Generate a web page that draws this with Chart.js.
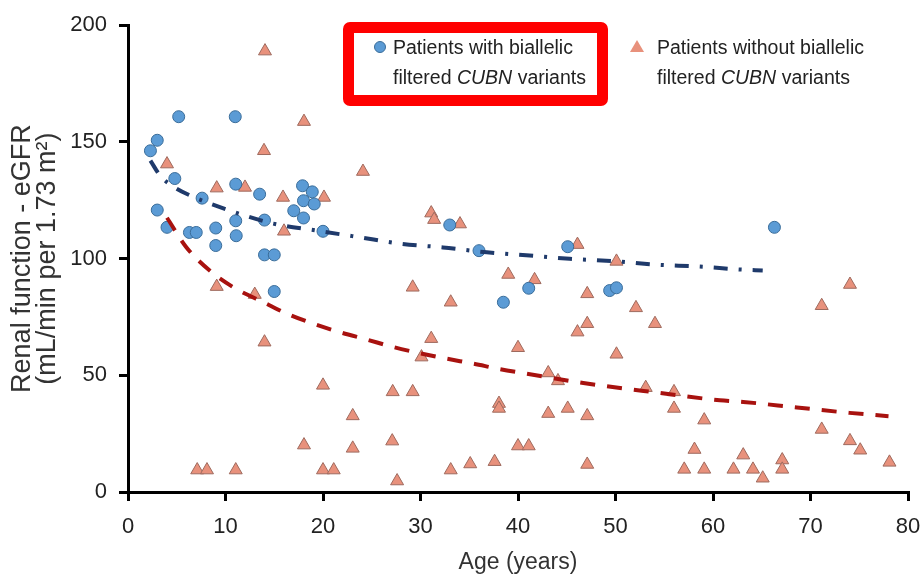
<!DOCTYPE html>
<html>
<head>
<meta charset="utf-8">
<script src="https://cdn.jsdelivr.net/npm/chart.js@4.4.1/dist/chart.umd.min.js"></script>
<style>
  html, body { margin: 0; padding: 0; background: #fff; }
  #wrap { position: relative; width: 923px; height: 576px; }
  #legend { position: absolute; left: 0; top: 0; font-family: "Liberation Sans", Arial, sans-serif; font-size: 19.5px; color: #222; }
  .box { position: absolute; left: 343px; top: 22px; width: 265px; height: 84px; box-sizing: border-box; border: 11px solid #ff0000; border-radius: 7px; }
  .item { position: absolute; line-height: 30px; white-space: nowrap; }
  .dot { position: absolute; width: 12px; height: 12px; border-radius: 50%; background: #5b9bd5; border: 1px solid #3a6d9a; box-sizing: border-box; }
  .tri { position: absolute; width: 0; height: 0; border-left: 7px solid transparent; border-right: 7px solid transparent; border-bottom: 12px solid #e8917c; }
</style>
</head>
<body>
<div id="wrap">
  <canvas id="myChart" width="923" height="576"></canvas>
  <div id="legend">
    <div class="box"></div>
    <div class="dot" style="left:374px; top:41px;"></div>
    <div class="item" style="left:393px; top:32px;">Patients with biallelic<br>filtered <i>CUBN</i> variants</div>
    <div class="tri" style="left:630px; top:40px;"></div>
    <div class="item" style="left:657px; top:32px;">Patients without biallelic<br>filtered <i>CUBN</i> variants</div>
  </div>
</div>
<script>
// patients with biallelic CUBN variants (age, eGFR)
const withAge = [2.3, 3.0, 5.2, 11.0, 4.8, 11.05, 7.6, 13.5, 17.9, 18.9, 18.0, 19.1, 17.0, 18.0, 3.0, 11.05, 14.0, 20.0, 4.0, 6.3, 7.0, 9.0, 9.0, 11.1, 14.0, 15.0, 15.0, 33.0, 36.0, 41.1, 38.5, 45.1, 49.4, 50.1, 66.3];
const withGfr = [146.2, 150.7, 160.8, 160.8, 134.3, 131.9, 125.9, 127.6, 131.2, 128.6, 124.8, 123.4, 120.5, 117.4, 120.8, 116.2, 116.5, 111.7, 113.4, 111.2, 111.2, 113.1, 105.6, 109.8, 101.6, 101.6, 85.9, 114.4, 103.4, 87.3, 81.3, 105.1, 86.3, 87.5, 113.4];

// patients without biallelic CUBN variants
const withoutAge = [14.05, 18.05, 13.95, 4.0, 9.1, 12.0, 15.9, 20.1, 16.0, 9.1, 13.0, 14.0, 20.0, 18.05, 7.1, 8.1, 11.05, 20.0, 21.1,
  24.1, 31.1, 31.4, 34.05, 29.2, 33.1, 39.0, 41.7, 31.1, 30.1, 27.15, 29.2, 40.0, 38.05, 38.05, 23.05, 23.05, 27.1, 27.6, 33.1, 35.1, 37.6, 40.0, 41.1,
  46.1, 50.1, 47.1, 52.1, 54.05, 46.1, 47.1, 50.1, 43.1, 44.1, 53.1, 56.0, 56.0, 43.1, 45.1, 47.1, 59.1, 58.1, 47.1, 57.05, 59.1, 62.1,
  74.05, 71.15, 71.15, 74.05, 75.1, 78.1, 63.1, 64.1, 65.1, 67.1, 67.1];
const withoutGfr = [188.9, 158.7, 146.2, 140.5, 130.2, 130.5, 126.2, 126.2, 111.7, 88.0, 84.6, 64.2, 45.7, 20.1, 9.4, 9.4, 9.4, 9.4, 9.4,
  137.3, 119.5, 116.7, 114.8, 87.7, 81.3, 93.2, 90.9, 65.7, 57.8, 42.9, 42.9, 61.8, 37.9, 35.8, 32.6, 18.7, 21.8, 4.7, 9.4, 12.0, 13.0, 19.7, 19.7,
  106.0, 98.8, 84.9, 78.9, 72.1, 68.5, 72.1, 59.0, 51.0, 47.6, 44.7, 42.9, 35.8, 33.6, 35.8, 32.6, 30.8, 18.2, 11.8, 9.7, 9.7, 9.7,
  88.9, 79.8, 26.8, 21.9, 17.9, 12.7, 15.8, 9.7, 5.9, 13.7, 9.7];

// trend lines
const blueTrendAge = [2.3, 3.3, 4.6, 6.4, 10.5, 14.9, 19.4, 23.8, 28.1, 32.3, 36.8, 41.2, 45.3, 49.7, 54.2, 58.5, 62.9, 65.1];
const blueTrendGfr = [142, 135.5, 131, 127, 120.5, 115, 112, 109.1, 106.3, 104.8, 102.7, 101.3, 99.9, 98.9, 97.4, 96.6, 95.3, 94.9];
const redTrendAge = [4, 6, 8.6, 11.1, 13.9, 16.3, 19, 21.7, 24.5, 27.2, 29.9, 32.7, 35.4, 38.2, 40.9, 46.7, 54.6, 60.7, 63.1, 68.6, 74, 78];
const redTrendGfr = [117.5, 104.8, 94.1, 87, 81.3, 76.4, 72.1, 68.5, 65.3, 62.1, 59.5, 57.1, 55, 52.6, 50.7, 46.7, 42.4, 39.3, 38.6, 36.2, 33.9, 32.5];

const xTicks = [0, 10, 20, 30, 40, 50, 60, 70, 80];
const yTicks = [0, 50, 100, 150, 200];

let toPoints = (xs, ys) => xs.map((x, i) => ({ x: x, y: ys[i] }));

(function () {
  const ctx = document.getElementById('myChart');
  const font = { family: '"Liberation Sans", Arial, sans-serif', size: 22 };

  const data = {
    datasets: [{
      label: 'trend with',
      data: toPoints(blueTrendAge, blueTrendGfr),
      showLine: true,
      pointRadius: 0,
      borderColor: '#1f3a6b',
      borderWidth: 4,
      borderDash: [14, 11, 3, 11],
      cubicInterpolationMode: 'monotone'
    }, {
      label: 'trend without',
      data: toPoints(redTrendAge, redTrendGfr),
      showLine: true,
      pointRadius: 0,
      borderColor: '#a8120f',
      borderWidth: 4,
      borderDash: [15, 12],
      cubicInterpolationMode: 'monotone'
    }, {
      label: 'Patients with biallelic filtered CUBN variants',
      data: toPoints(withAge, withGfr),
      pointStyle: 'circle',
      pointRadius: 6,
      backgroundColor: '#5b9bd5',
      borderColor: '#3a6d9a',
      borderWidth: 1
    }, {
      label: 'Patients without biallelic filtered CUBN variants',
      data: toPoints(withoutAge, withoutGfr),
      pointStyle: 'triangle',
      pointRadius: 7.5,
      backgroundColor: '#e8917c',
      borderColor: '#9e6a5e',
      borderWidth: 1
    }]
  };

  const config = {
    type: 'scatter',
    data: data,
    options: {
      responsive: false,
      animation: false,
      layout: { padding: { top: 24, right: 15, left: 0, bottom: 0 } },
      plugins: { legend: { display: false }, tooltip: { enabled: false } },
      scales: {
        x: {
          type: 'linear', min: 0, max: 80,
          afterBuildTicks: s => { s.ticks = xTicks.map(v => ({ value: v })); },
          afterFit: s => { s.height = 84; s.paddingLeft = 0; s.paddingRight = 0; },
          border: { display: true, color: '#000', width: 3 },
          grid: { drawOnChartArea: false, drawTicks: true, tickLength: 9, color: '#000', lineWidth: 3 },
          ticks: { color: '#222', font: font, padding: 13, maxRotation: 0 },
          title: { display: true, text: 'Age (years)', color: '#333', font: { family: font.family, size: 23, lineHeight: 1.2 }, padding: { top: 0, bottom: 0 } }
        },
        y: {
          type: 'linear', min: 0, max: 200,
          afterBuildTicks: s => { s.ticks = yTicks.map(v => ({ value: v })); },
          afterFit: s => { s.width = 128; },
          border: { display: true, color: '#000', width: 3 },
          grid: { drawOnChartArea: false, drawTicks: true, tickLength: 9, color: '#000', lineWidth: 3 },
          ticks: { color: '#222', font: font, padding: 12 },
          title: { display: true, text: ['Renal function - eGFR', '(mL/min per 1.73 m\u00b2)'], color: '#333', font: { family: font.family, size: 27, lineHeight: 0.93 }, padding: { top: 10, bottom: 0 } }
        }
      }
    }
  };
  const chart = new Chart(ctx, config);
})();
</script>
</body>
</html>
